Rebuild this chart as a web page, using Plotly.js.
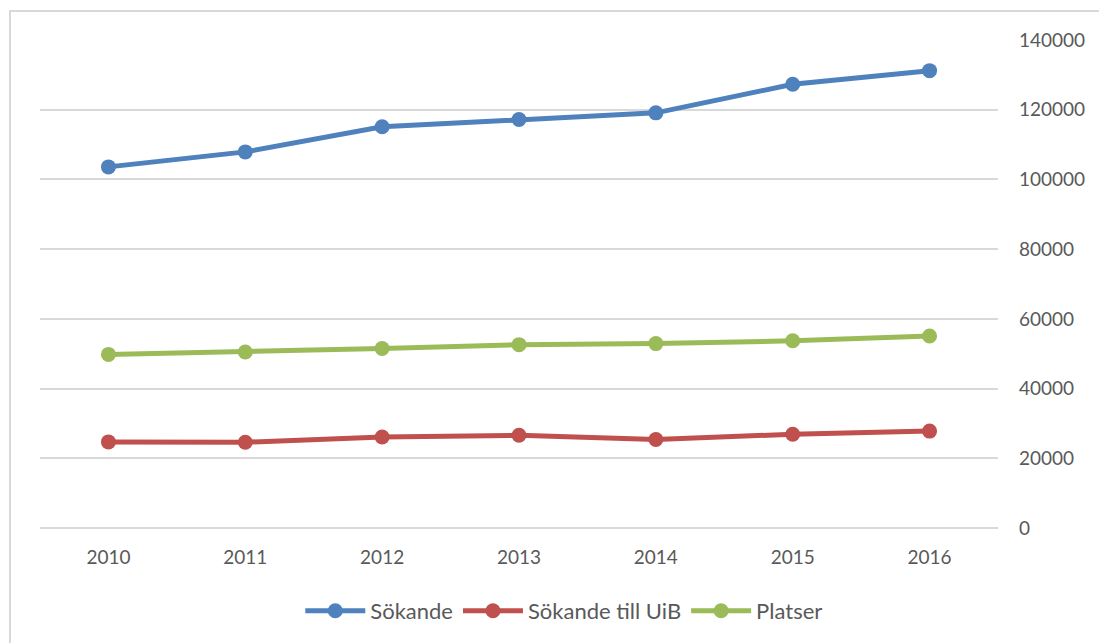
<!DOCTYPE html>
<html>
<head>
<meta charset="utf-8">
<script src="https://cdn.plot.ly/plotly-3.0.1.min.js"></script>
<style>
  html, body { margin: 0; padding: 0; overflow: hidden; background: #fff; }
  #chart { position: absolute; left: 0; top: 0; width: 1099px; height: 643px; }
  #frame { position: absolute; left: 9px; top: 10px; width: 3000px; height: 3000px;
           border-left: 2px solid #d9d9d9; border-top: 2px solid #d9d9d9; pointer-events: none; }
</style>
</head>
<body>
<div id="chart"></div>
<div id="frame"></div>
<script>
const years = ["2010", "2011", "2012", "2013", "2014", "2015", "2016"];
const sokande = [103600, 107900, 115100, 117200, 119100, 127300, 131200];
const sokandeUiB = [24700, 24600, 26100, 26600, 25400, 26900, 27800];
const platser = [49800, 50500, 51500, 52600, 52900, 53700, 55100];
const yTicks = [0, 20000, 40000, 60000, 80000, 100000, 120000, 140000];

const seriesNames = ["Sökande", "Sökande till UiB", "Platser"];
const seriesColors = ["#4F81BD", "#C0504D", "#9BBB59"];
const seriesValues = [sokande, sokandeUiB, platser];

const traces = seriesValues.map((vals, i) => ({
  type: "scatter",
  mode: "lines+markers",
  name: seriesNames[i],
  x: years,
  y: vals,
  line: { color: seriesColors[i], width: 5 },
  marker: { color: seriesColors[i], size: 15 },
  cliponaxis: false
}));

const layout = {
  width: 1099,
  height: 643,
  paper_bgcolor: "#ffffff",
  plot_bgcolor: "#ffffff",
  margin: { l: 40, r: 101, t: 40, b: 115, pad: 0 },
  font: { family: "Lato, 'Open Sans', sans-serif", size: 19, color: "#595959" },
  showlegend: true,
  legend: {
    orientation: "h",
    xref: "container",
    yref: "container",
    x: 0.513,
    xanchor: "center",
    y: 1 - 611 / 643,
    yanchor: "middle",
    font: { size: 22, color: "#595959" },
    itemwidth: 60,
    tracegroupgap: 0
  },
  xaxis: {
    type: "category",
    range: [-0.5, 6.5],
    showgrid: false,
    zeroline: false,
    showline: false,
    ticks: "",
    ticklabelstandoff: 16,
    tickfont: { size: 19, color: "#595959" }
  },
  yaxis: {
    side: "right",
    range: [0, 140000],
    tickvals: yTicks,
    ticktext: yTicks.map(String),
    showgrid: true,
    gridcolor: "#d9d9d9",
    gridwidth: 2,
    zeroline: true,
    zerolinecolor: "#d9d9d9",
    zerolinewidth: 2,
    showline: false,
    ticks: "",
    ticklabelstandoff: 20,
    tickfont: { size: 19, color: "#595959" }
  }
};

Plotly.newPlot("chart", traces, layout, { displayModeBar: false, staticPlot: true });
</script>
</body>
</html>
